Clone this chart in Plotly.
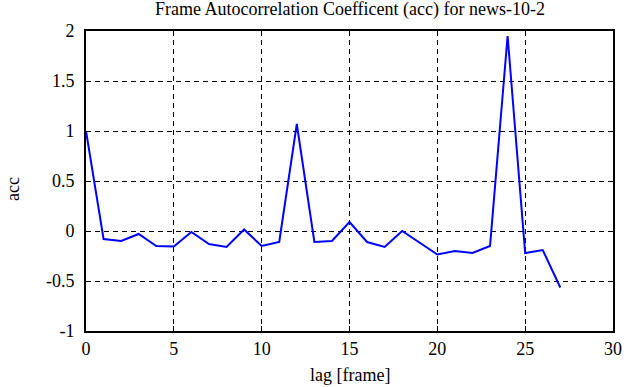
import plotly.graph_objects as go

lags = list(range(28))
acc = [1.0, -0.08, -0.10, -0.03, -0.15, -0.155, -0.01, -0.13, -0.16, 0.015,
       -0.15, -0.11, 1.07, -0.11, -0.10, 0.09, -0.11, -0.16, 0.0, -0.12,
       -0.235, -0.20, -0.22, -0.15, 1.95, -0.22, -0.19, -0.565]

x_ticks = [0, 5, 10, 15, 20, 25, 30]
x_tick_labels = ["0", "5", "10", "15", "20", "25", "30"]
y_ticks = [-1, -0.5, 0, 0.5, 1, 1.5, 2]
y_tick_labels = ["-1", "-0.5", "0", "0.5", "1", "1.5", "2"]

title_text = "Frame Autocorrelation Coefficent (acc) for news-10-2"
x_title = "lag [frame]"
y_title = "acc"

font = "Liberation Serif"
W, H = 624, 387
L, T = 86, 31
R = W - 613
B = H - 331
PW = W - L - R
PH = H - T - B

fig = go.Figure(go.Scatter(x=lags, y=acc, mode="lines",
                           line=dict(color="#0000ff", width=2)))

tf = dict(family=font, size=18, color="black")
axis_common = dict(showline=True, linecolor="black", linewidth=2, mirror="ticks",
                   ticks="inside", ticklen=5, tickwidth=1, tickcolor="black",
                   showgrid=True, gridcolor="black", gridwidth=1, griddash="5px,4px",
                   zeroline=False, automargin=False, tickfont=tf)

fig.update_layout(
    template="none",
    width=W, height=H,
    margin=dict(l=L, r=R, t=T, b=B, autoexpand=False),
    paper_bgcolor="white", plot_bgcolor="white",
    showlegend=False,
    font=dict(family=font, color="black", size=18),
    annotations=[
        dict(text=title_text, xref="paper", yref="paper",
             x=0.5, y=1 + (T - 9) / PH, xanchor="center", yanchor="middle",
             showarrow=False, font=dict(family=font, size=18, color="black")),
        dict(text=x_title, xref="paper", yref="paper",
             x=0.5, y=-(375 - 331) / PH, xanchor="center", yanchor="middle",
             showarrow=False, font=dict(family=font, size=18, color="black")),
        dict(text=y_title, xref="paper", yref="paper", textangle=-90,
             x=-(86 - 13) / PW, y=(331 - 189) / PH,
             xanchor="center", yanchor="middle",
             showarrow=False, font=dict(family=font, size=18, color="black")),
    ],
)
fig.update_xaxes(range=[0, 30], tickvals=x_ticks, ticktext=x_tick_labels, **axis_common)
fig.update_yaxes(range=[-1, 2], tickvals=y_ticks, ticktext=y_tick_labels,
                 ticklabelstandoff=6, **axis_common)

fig.write_html("out.html", config={"displayModeBar": False},
               post_script="document.body.style.margin='0';")
